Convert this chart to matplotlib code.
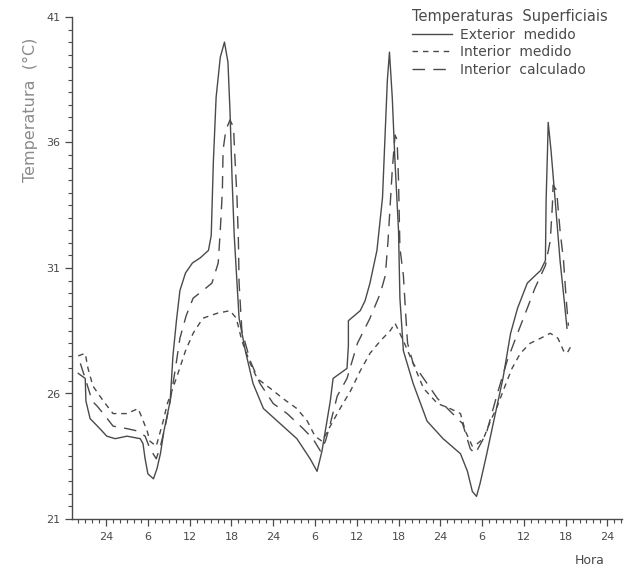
import numpy as np
import matplotlib.pyplot as plt
from matplotlib.ticker import MultipleLocator

# hours from the first midnight
ext_h = [-4.0, -3.0, -2.9, -2.3, -0.9, 0.1, 1.3, 3.0, 4.9, 5.3, 5.6, 6.0, 6.8, 7.3, 7.8, 8.3, 9.2, 9.6,
         10.1, 10.6, 11.4, 12.4, 13.5, 14.7, 15.1, 15.4, 15.8, 16.4, 17.0, 17.5, 17.8, 18.1, 18.4, 18.8,
         19.1, 20.0, 21.1, 22.6, 25.0, 27.4, 29.3, 30.3, 31.0, 32.2, 32.6, 34.6, 34.8, 34.8, 36.5, 37.2,
         37.9, 38.9, 39.7, 40.1, 40.4, 40.7, 41.1, 41.5, 42.0, 42.2, 42.7, 44.1, 46.1, 48.4, 50.9, 51.9,
         52.6, 53.2, 53.7, 54.6, 55.6, 57.0, 58.1, 59.1, 60.5, 62.4, 63.1, 63.2, 63.4, 63.5, 63.9, 64.5,
         65.2, 65.8, 66.2]
ext_t = [26.8, 26.6, 25.7, 25.0, 24.6, 24.3, 24.2, 24.3, 24.2, 24.0, 23.4, 22.8, 22.6, 23.0, 23.6, 24.5,
         25.7, 27.5, 28.9, 30.1, 30.8, 31.2, 31.4, 31.7, 32.3, 35.2, 37.8, 39.4, 40.0, 39.2, 37.2, 34.5,
         32.3, 30.4, 29.0, 27.7, 26.4, 25.4, 24.8, 24.2, 23.4, 22.9, 23.7, 25.7, 26.6, 27.0, 27.9, 28.9,
         29.3, 29.7, 30.4, 31.7, 33.8, 36.5, 38.5, 39.6, 37.8, 35.2, 32.5, 29.8, 27.7, 26.4, 24.9, 24.2,
         23.6, 22.9, 22.1, 21.9, 22.4, 23.5, 24.8, 26.6, 28.4, 29.4, 30.4, 30.9, 31.3, 33.7, 35.7, 36.8,
         35.7, 33.7, 31.3, 29.7, 28.6]

med_h = [-4.0, -3.0, -2.6, -1.9, -0.4, 1.0, 3.0, 4.6, 5.2, 5.9, 6.3, 7.2, 8.2, 8.8, 10.2, 11.4, 12.5,
         13.9, 16.0, 17.8, 18.7, 19.5, 20.7, 21.7, 23.6, 25.4, 27.4, 28.9, 30.0, 31.0, 32.2, 33.6, 35.1,
         36.5, 37.9, 39.4, 40.8, 41.5, 42.7, 44.1, 45.6, 47.6, 49.4, 50.9, 51.6, 52.6, 53.3, 54.2, 55.2,
         56.2, 57.3, 58.3, 59.5, 60.9, 62.4, 63.8, 64.9, 65.7, 66.2, 67.0]
med_t = [27.5, 27.6, 27.0, 26.3, 25.7, 25.2, 25.2, 25.4, 25.0, 24.5, 24.1, 23.9, 24.9, 25.6, 26.7, 27.7,
         28.4, 29.0, 29.2, 29.3, 29.0, 28.1, 27.2, 26.6, 26.2, 25.8, 25.4, 24.9, 24.3, 24.1, 24.7, 25.4,
         26.1, 26.9, 27.6, 28.1, 28.5, 28.8, 28.1, 27.2, 26.2, 25.6, 25.4, 25.2, 24.5, 23.9, 24.0, 24.2,
         24.9, 25.5, 26.3, 27.0, 27.6, 28.0, 28.2, 28.4, 28.2, 27.7, 27.6, 28.0]

calc_h = [-3.7, -3.0, -2.0, -1.3, -0.4, 1.0, 3.0, 4.6, 5.6, 6.3, 7.2, 7.8, 8.5, 9.2, 9.9, 10.6, 11.5,
          12.5, 13.9, 15.2, 16.1, 16.4, 16.7, 16.8, 17.2, 17.8, 18.3, 18.5, 18.8, 19.0, 19.1, 19.5, 20.7,
          22.1, 24.0, 26.0, 28.3, 29.7, 30.8, 31.5, 32.2, 33.2, 34.6, 36.1, 37.9, 39.4, 40.1, 40.5, 40.8,
          41.1, 41.5, 41.8, 42.0, 42.2, 42.7, 43.0, 43.3, 44.1, 45.6, 47.6, 49.4, 51.2, 52.3, 53.0, 54.0,
          54.7, 56.2, 57.6, 59.1, 60.5, 61.6, 63.1, 63.8, 64.1, 64.2, 64.7, 65.2, 65.7, 66.1, 66.4]
calc_t = [27.2, 26.6, 25.7, 25.5, 25.2, 24.7, 24.6, 24.5, 24.3, 23.8, 23.4, 23.9, 24.7, 25.7, 26.9, 28.2,
          29.1, 29.8, 30.1, 30.4, 31.2, 32.5, 34.1, 35.7, 36.5, 36.9, 36.6, 35.4, 33.8, 32.1, 30.4, 28.5,
          27.3, 26.4, 25.6, 25.2, 24.6, 24.2, 23.7, 24.1, 24.8, 25.9, 26.6, 28.0, 29.0, 30.0, 30.7, 32.1,
          33.5, 34.9, 36.3, 36.1, 34.5, 31.8, 30.7, 29.3, 28.0, 27.2, 26.6, 25.8, 25.3, 24.8, 23.8, 23.6,
          24.1, 24.5, 26.0, 27.3, 28.4, 29.4, 30.2, 31.1, 32.1, 33.5, 34.3, 34.1, 32.5, 31.3, 29.7, 28.7]

hour_ticks = [0, 6, 12, 18, 24, 30, 36, 42, 48, 54, 60, 66, 72]
hour_labels = ['24', '6', '12', '18', '24', '6', '12', '18', '24', '6', '12', '18', '24']
temp_ticks = [21, 26, 31, 36, 41]

ink = '#4a4a4a'
plt.rcParams['font.family'] = 'DejaVu Sans'

fig = plt.figure(figsize=(6.36, 5.70), dpi=100)
ax = fig.add_axes([72/636, 51/570, 550/636, 502/570])

ax.plot(ext_h, ext_t, color=ink, lw=1.0, label='Exterior  medido')
ax.plot(med_h, med_t, color=ink, lw=1.0, ls=(0, (4, 3.5)), label='Interior  medido')
ax.plot(calc_h, calc_t, color=ink, lw=1.0, ls=(0, (9, 6)), label='Interior  calculado')

ax.set_xlim(-4.9, 74.1)
ax.set_ylim(21, 41)
ax.spines['top'].set_visible(False)
ax.spines['right'].set_visible(False)
for s in ['left', 'bottom']:
    ax.spines[s].set_color(ink)
    ax.spines[s].set_linewidth(1.0)

ax.set_xticks(hour_ticks)
ax.set_xticklabels(hour_labels)
ax.xaxis.set_minor_locator(MultipleLocator(1))
ax.set_yticks(temp_ticks)
ax.yaxis.set_minor_locator(MultipleLocator(0.5))
ax.tick_params(axis='both', which='major', colors=ink, labelsize=8, length=5, width=0.9)
ax.tick_params(axis='both', which='minor', colors=ink, length=3, width=0.8)
ax.tick_params(axis='x', pad=4)

fig.text(30/636, 1 - 110/570, 'Temperatura  (°C)', rotation=90, ha='center', va='center',
         fontsize=11.5, color='#8a8a8a')
fig.text(590/636, 1 - 560/570, 'Hora', ha='center', va='center', fontsize=9, color=ink)

leg = ax.legend(title='Temperaturas  Superficiais', loc='upper left', bbox_to_anchor=(0.60, 1.035),
                frameon=False, handlelength=2.9, labelspacing=0.25, handletextpad=0.6,
                fontsize=10, title_fontsize=10.5, alignment='left', labelcolor=ink,
                borderaxespad=0.3)
leg.get_title().set_color(ink)

fig.savefig('out.png', dpi=100)
